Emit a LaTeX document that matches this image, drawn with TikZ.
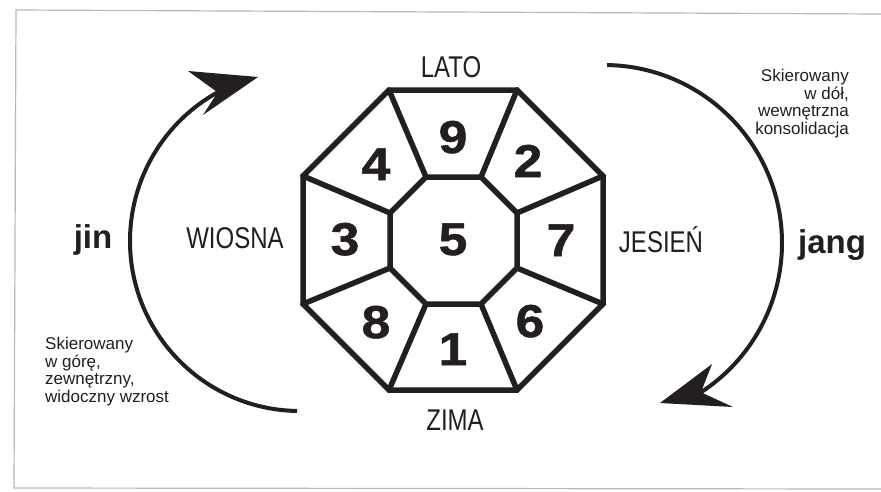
\documentclass[tikz,border=0pt]{standalone}
\usepackage{fontspec}
\setmainfont{Liberation Sans}
\newfontfamily\condf[FakeStretch=0.8]{Liberation Sans}
\newfontfamily\digf[FakeStretch=1.12,FakeBold=1.2]{Liberation Sans}
\definecolor{ink}{HTML}{231F20}
\begin{document}
\begin{tikzpicture}[x=1pt,y=-1pt,
  oct/.style={line width=5.5pt, draw=ink, line join=miter},
  shaft/.style={line width=4pt, draw=ink},
  head/.style={fill=ink},
  num/.style={font=\digf\bfseries\fontsize{46}{46}\selectfont, text=ink, inner sep=0pt, anchor=base},
  season/.style={font=\condf\fontsize{30}{30}\selectfont, text=ink, inner sep=0pt, anchor=base},
  yy/.style={font=\bfseries\fontsize{33}{33}\selectfont, text=ink, inner sep=0pt, anchor=base},
  note/.style={font=\fontsize{17}{17.5}\selectfont, text=ink, inner sep=0pt},
  frame/.style={draw=gray!55, line width=1.2pt}]
\useasboundingbox (0,0) rectangle (881,491);
\fill[white] (0,0) rectangle (881,491);
% scanned frame
\draw[frame] (881,14) -- (16,10) -- (14,488) -- (881,489);
% outer octagon vertices
\coordinate (o1) at (389,90);
\coordinate (o2) at (517,90);
\coordinate (o3) at (603,176);
\coordinate (o4) at (603,304);
\coordinate (o5) at (517,390);
\coordinate (o6) at (389,390);
\coordinate (o7) at (303,304);
\coordinate (o8) at (303,176);
% inner octagon vertices
\coordinate (i1) at (426,177);
\coordinate (i2) at (481,177);
\coordinate (i3) at (517,213);
\coordinate (i4) at (517,268);
\coordinate (i5) at (481,304);
\coordinate (i6) at (426,304);
\coordinate (i7) at (390,268);
\coordinate (i8) at (390,213);
\foreach \k in {1,...,8} {\draw[oct, line cap=round] (o\k) -- (i\k);}
\draw[oct] (o1) -- (o2) -- (o3) -- (o4) -- (o5) -- (o6) -- (o7) -- (o8) -- cycle;
\draw[oct] (i1) -- (i2) -- (i3) -- (i4) -- (i5) -- (i6) -- (i7) -- (i8) -- cycle;
% numbers
\node[num] (n9) at (453,153) {9};
\node[num] (n4) at (376,180) {4};
\node[num] (n2) at (528,177) {2};
\node[num] (n3) at (345,255) {3};
\node[num] (n5) at (453,255) {5};
\node[num] (n7) at (561,256) {7};
\node[num] (n8) at (376,338) {8};
\node[num] (n1) at (453,365) {1};
\node[num] (n6) at (530,337) {6};
% seasons
\node[season] (lato) at (451,77) {LATO};
\node[season] (zima) at (455,430) {ZIMA};
\node[season] (wiosna) at (235,248) {WIOSNA};
\node[season] (jesien) at (661,252) {JESIEŃ};
% yin / yang
\node[yy] (jin) at (93,248) {jin};
\node[yy] (jang) at (832,253) {jang};
% notes
\node[note, anchor=north east, align=right] (noteR) at (849,69) {Skierowany\\w dół,\\wewnętrzna\\konsolidacja};
\node[note, anchor=north west, align=left] (noteL) at (45,337) {Skierowany\\w górę,\\zewnętrzny,\\widoczny wzrost};
% arcs
\coordinate (cl) at (300,241);
\coordinate (cr) at (604,243);
\draw[shaft] (cl) ++(91:170) arc[start angle=91, end angle=241, radius=170] coordinate (lend);
\draw[shaft] (cr) ++(-89:178) arc[start angle=-89, end angle=57, radius=178] coordinate (rend);
\fill[head] (258,77) -- (188,71) -- (lend) -- (203,115) -- cycle;
\fill[head] (660,403) -- (712,364) -- (rend) -- (733,407) -- cycle;
\end{tikzpicture}
\end{document}
